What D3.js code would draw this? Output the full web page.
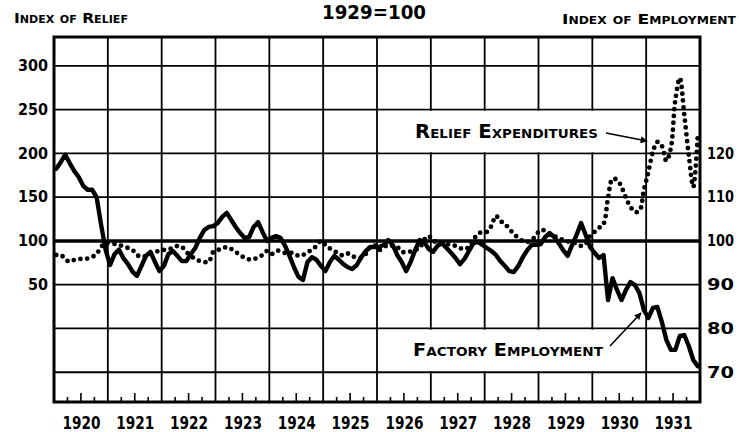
<!DOCTYPE html>
<html>
<head>
<meta charset="utf-8">
<script src="https://cdn.jsdelivr.net/npm/d3@7"></script>
<style>
  html, body { margin: 0; padding: 0; background: #fff; }
  svg { display: block; }
  text { font-family: "DejaVu Sans", "Liberation Sans", sans-serif; font-weight: bold; fill: #000; }
</style>
</head>
<body>
<svg id="chart" width="739" height="432"></svg>
<script>
// ---- data ----
const years = [1920,1921,1922,1923,1924,1925,1926,1927,1928,1929,1930,1931];
const reliefTicks = [50,100,150,200,250,300];
const employmentTicks = [70,80,90,100,110,120];
const gridValues = [300,250,200,150,50,0,-50];

// monthly index of factory employment, Jan 1920 - Dec 1931 (1929 = 100)
const employment = [
  116.5,118,119.7,117.8,116,114.6,112.6,111.7,111.7,110,103.7,98,
  94.5,97,98,96,94.7,93,92,94.3,96.6,97.5,95.2,93.1,
  94.3,97,97.7,96.6,95.4,95.4,97,98.4,100.7,102.5,103.2,103.4,
  104.1,105.5,106.4,104.8,103.2,101.8,100.7,100.9,103.2,104.3,102,100,
  100.7,101.1,100.7,98.9,96.6,94,91.8,91.1,95.2,96.3,95.7,94.3,
  93.1,95.2,96.6,95.7,94.7,94,93.6,94.5,96.3,97.7,98.6,98.6,
  98.6,99.1,100.2,99.1,96.8,95.2,93.1,95.2,97.9,100.2,99.8,98.2,
  97.5,98.9,99.5,98.4,97.3,96.1,94.7,95.9,97.7,99.5,99.8,99.1,
  98.4,97.7,96.8,95.4,94.3,93.1,92.9,94.3,96.3,97.9,99.1,99.1,
  99.3,100.9,101.8,100.9,99.5,97.9,96.6,99.1,101.4,104.1,101.4,98.6,
  97.3,96.1,96.8,86.5,91.5,88.8,86.5,88.8,90.6,89.9,88.1,84.2,
  82.4,84.7,84.9,81.5,77.4,75.1,75.1,78.3,78.5,76,72.8,71.4
];
// monthly index of relief expenditures, Jan 1920 - Dec 1931 (1929 = 100)
const relief = [
  84,84,79.4,76,78.3,79.4,79.4,80,81.7,85.1,93.1,97.7,
  97.7,96.6,95.4,93.7,92,89.7,84,81.7,82.9,85.1,87.4,88.6,
  89.7,90.9,91.7,94.3,93.1,87.4,82.9,79.4,77.1,76,76,87.4,
  89.7,90.9,93.1,90.9,87.4,84,80.6,78.9,78.9,81.7,84,88.6,
  85.1,88.6,88.6,86.3,86.3,86.3,82.9,84,87.4,89.7,94.3,100,
  95.4,91.4,88.6,85.1,83.4,85.7,82.3,81.7,80.6,85.1,93.1,94.9,
  89.7,92.6,95.4,94.3,93.1,87.4,87.4,88,89.7,92,101.1,105.7,
  100,98.9,97.7,96.6,95.4,94.3,92,90.3,93.1,101.1,108,110.3,
  110.3,117.1,128.6,122.9,119.4,113.7,108,103.4,100,98.9,101.1,106.9,
  112.6,111.4,108,105.7,103.4,101.1,99.4,98.3,97.1,94.3,96.6,105.7,
  110.3,114.9,119.4,149.1,170.9,169.7,161.7,149.1,138.9,133.1,134.3,158.3,
  178.9,201.7,213.1,208.6,191.4,206,261,286,244,198,161.7,221
];

// ---- layout ----
const svg = d3.select("#chart");
const L = 54, R = 700, T = 37, B = 402;
const x = d3.scaleLinear().domain([1920, 1932]).range([L, R]);
const yR = d3.scaleLinear().domain([-84, 333]).range([B, T]);
const yE = d3.scaleLinear().domain([100 + (-84 - 100) / 5, 100 + (333 - 100) / 5]).range([B, T]);
const monthX = i => x(1920 + (i + 0.5) / 12);

// grid lines
svg.append("g").selectAll("line.h").data(gridValues).join("line")
  .attr("x1", L).attr("x2", R)
  .attr("y1", d => yR(d)).attr("y2", d => yR(d))
  .attr("stroke", "#000").attr("stroke-width", 1.8);
svg.append("line")
  .attr("x1", L).attr("x2", R).attr("y1", yR(100)).attr("y2", yR(100))
  .attr("stroke", "#000").attr("stroke-width", 3.4);
svg.append("g").selectAll("line.v").data(years.slice(1)).join("line")
  .attr("x1", d => x(d)).attr("x2", d => x(d))
  .attr("y1", T).attr("y2", B)
  .attr("stroke", "#000").attr("stroke-width", 1.8);

// quarterly ticks on bottom edge
const quarters = [];
years.forEach(yv => [0.25, 0.5, 0.75].forEach(q => quarters.push({v: yv + q, tall: q === 0.5})));
svg.append("g").selectAll("line").data(quarters).join("line")
  .attr("x1", d => x(d.v)).attr("x2", d => x(d.v))
  .attr("y1", B).attr("y2", d => B - (d.tall ? 9 : 5))
  .attr("stroke", "#000").attr("stroke-width", 1.6);

// white label boxes interrupting the grid
svg.append("rect")
  .attr("x", x(1926) + 1.5).attr("width", x(1931) - x(1926) - 3)
  .attr("y", yR(250) + 1.2).attr("height", yR(200) - yR(250) - 2.4)
  .attr("fill", "#fff");
svg.append("rect")
  .attr("x", x(1926) + 1.5).attr("width", x(1931) - x(1926) - 3)
  .attr("y", yR(0) + 1.2).attr("height", yR(-50) - yR(0) - 2.4)
  .attr("fill", "#fff");

// frame
svg.append("rect").attr("x", L).attr("y", T).attr("width", R - L).attr("height", B - T)
  .attr("fill", "none").attr("stroke", "#000").attr("stroke-width", 3);

// series
const lineR = d3.line().x((d, i) => monthX(i)).y(d => yR(d)).curve(d3.curveCatmullRom.alpha(0.5));
const lineE = d3.line().x((d, i) => monthX(i)).y(d => yE(d)).curve(d3.curveLinear);
svg.append("path").datum(relief).attr("d", lineR)
  .attr("fill", "none").attr("stroke", "#000").attr("stroke-width", 4.8)
  .attr("stroke-linecap", "round").attr("stroke-dasharray", "0 6.8");
svg.append("path").datum(employment).attr("d", lineE)
  .attr("fill", "none").attr("stroke", "#000").attr("stroke-width", 4.4)
  .attr("stroke-linejoin", "round").attr("stroke-linecap", "round");

// axes
const axL = svg.append("g").attr("transform", `translate(${L},0)`)
  .call(d3.axisLeft(yR).tickValues(reliefTicks).tickSize(0).tickPadding(6).tickFormat(d3.format("d")));
const axRt = svg.append("g").attr("transform", `translate(${R},0)`)
  .call(d3.axisRight(yE).tickValues(employmentTicks).tickSize(0).tickPadding(7).tickFormat(d3.format("d")));
const axB = svg.append("g").attr("transform", `translate(0,${B})`)
  .call(d3.axisBottom(x).tickValues(years.map(d => d + 0.5)).tickSize(0).tickPadding(14)
    .tickFormat(d => String(Math.floor(d))));
[axL, axRt, axB].forEach(a => {
  a.select(".domain").remove();
  a.selectAll("text").style("font-family", '"DejaVu Sans", sans-serif')
    .style("font-weight", "bold").attr("fill", "#000");
});
axL.selectAll("text").style("font-size", "15px").attr("textLength", 30).attr("lengthAdjust", "spacingAndGlyphs");
axL.selectAll("text").filter(d => d < 100).attr("textLength", 20);
axRt.selectAll("text").style("font-size", "15px").attr("textLength", 27).attr("lengthAdjust", "spacingAndGlyphs");
axB.selectAll("text").style("font-size", "18px").attr("textLength", 38).attr("lengthAdjust", "spacingAndGlyphs");

// titles
svg.append("text").attr("x", 374).attr("y", 19).attr("text-anchor", "middle")
  .style("font-size", "20px").attr("textLength", 104).attr("lengthAdjust", "spacingAndGlyphs")
  .text("1929=100");
svg.append("text").attr("x", 14).attr("y", 23)
  .style("font-size", "14px").style("font-variant", "small-caps")
  .attr("textLength", 114).attr("lengthAdjust", "spacingAndGlyphs")
  .text("Index of Relief");
svg.append("text").attr("x", 736).attr("y", 24).attr("text-anchor", "end")
  .style("font-size", "14px").style("font-variant", "small-caps")
  .attr("textLength", 174).attr("lengthAdjust", "spacingAndGlyphs")
  .text("Index of Employment");

// annotations
svg.append("defs").append("marker").attr("id", "ah")
  .attr("viewBox", "0 0 10 10").attr("refX", 9).attr("refY", 5)
  .attr("markerWidth", 9).attr("markerHeight", 7).attr("markerUnits", "userSpaceOnUse")
  .attr("orient", "auto")
  .append("path").attr("d", "M0,0 L10,5 L0,10 z").attr("fill", "#000");

svg.append("text").attr("x", 415).attr("y", 138)
  .style("font-size", "19px").style("font-variant", "small-caps")
  .attr("textLength", 183).attr("lengthAdjust", "spacingAndGlyphs")
  .text("Relief Expenditures");
svg.append("line").attr("x1", 606).attr("y1", 133).attr("x2", 647).attr("y2", 141)
  .attr("stroke", "#000").attr("stroke-width", 1.6).attr("marker-end", "url(#ah)");

svg.append("text").attr("x", 413).attr("y", 356)
  .style("font-size", "17px").style("font-variant", "small-caps")
  .attr("textLength", 190).attr("lengthAdjust", "spacingAndGlyphs")
  .text("Factory Employment");
svg.append("line").attr("x1", 610).attr("y1", 346).attr("x2", 641).attr("y2", 313)
  .attr("stroke", "#000").attr("stroke-width", 1.6).attr("marker-end", "url(#ah)");
</script>
</body>
</html>
